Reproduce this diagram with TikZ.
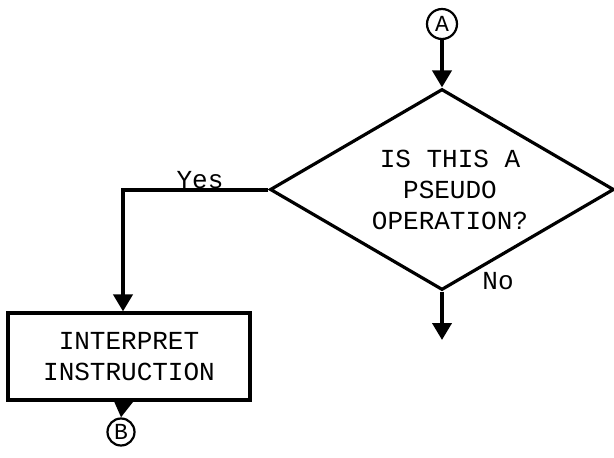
\documentclass[tikz,border=0pt]{standalone}
\usepackage{fontspec}
\newfontfamily\tw{Liberation Mono}
\usetikzlibrary{shapes.geometric,arrows.meta}
\begin{document}
\begin{tikzpicture}[x=1pt,y=-1pt,
  txt/.style={font=\tw\fontsize{26}{31}\selectfont},
  conn/.style={draw, circle, line width=2.2pt, inner sep=0pt, minimum size=30pt, font=\tw\fontsize{23}{23}\selectfont},
  arr/.style={line width=4pt, -{Triangle[length=17pt,width=19pt]}},
  proc/.style={draw, line width=3.2pt, rectangle, minimum width=242pt, minimum height=87pt, inner sep=0pt, align=center, txt},
  dec/.style={draw, line width=3.2pt, diamond, shape aspect=1.71, minimum width=344pt, minimum height=201pt, inner sep=0pt, align=center, txt}
]
\useasboundingbox (0,0) rectangle (614,458);
\node[conn] (A) at (442,24) {A};
\node[dec] (d) at (442,189.5) {\hspace*{16pt}IS THIS A\\\hspace*{16pt}PSEUDO\\\hspace*{16pt}OPERATION?};
\node[proc] (p) at (129,356.5) {INTERPRET\\INSTRUCTION};
\node[conn, minimum size=27pt] (B) at (121,432) {B};
\coordinate (yx) at (123,0);
\coordinate (nend) at (442,340);
\draw[arr] (A) -- (d.north);
\draw[arr] (d.south) -- (nend);
\draw[arr] (d.west) -- (d.west -| yx) -- (yx |- p.north);
\draw[arr] (yx |- p.south) -- (B.north);
\node[txt] (yes) at (200,180) {Yes};
\node[txt] (no) at (498,281) {No};
\end{tikzpicture}
\end{document}
